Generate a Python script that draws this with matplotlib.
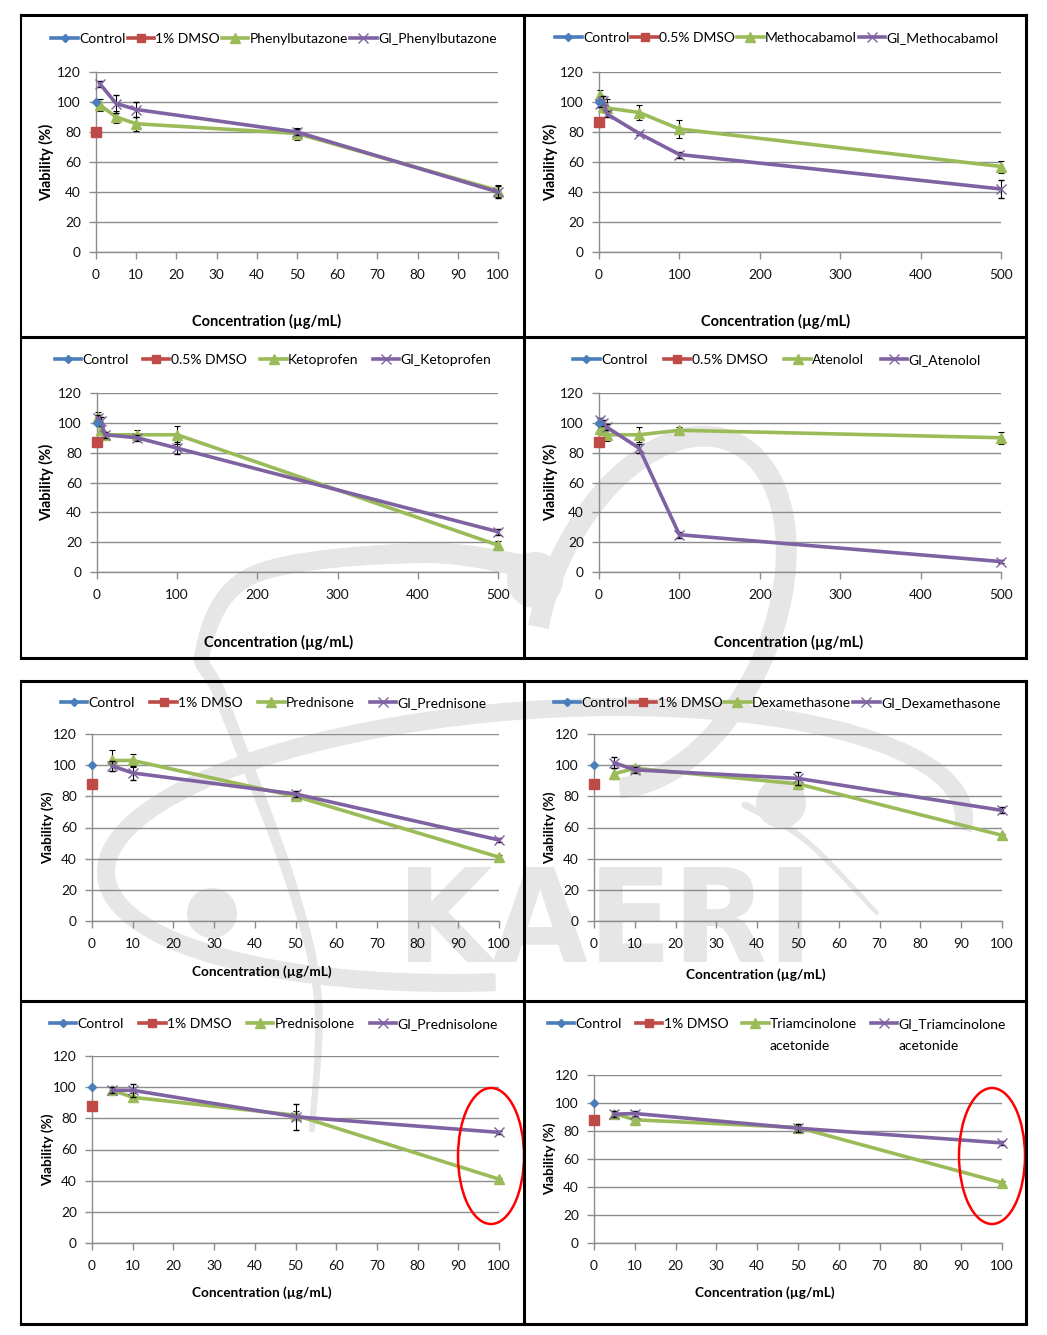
import numpy as np
import matplotlib.pyplot as plt
from matplotlib.lines import Line2D
from matplotlib.patches import Ellipse, Circle, Arc, PathPatch
from matplotlib.collections import LineCollection
from matplotlib.textpath import TextPath
from matplotlib.font_manager import FontProperties
from matplotlib.transforms import Affine2D

plt.rcParams['font.family'] = ['Lato', 'DejaVu Sans']

W, H = 1047, 1335

# ---- data ----
ctrl_y = 100
dmso_y = [80, 87, 87, 87, 88, 88, 88, 88]
dmso_names = ['1% DMSO', '0.5% DMSO', '0.5% DMSO', '0.5% DMSO',
              '1% DMSO', '1% DMSO', '1% DMSO', '1% DMSO']
drug_names = ['Phenylbutazone', 'Methocabamol', 'Ketoprofen', 'Atenolol',
              'Prednisone', 'Dexamethasone', 'Prednisolone', 'Triamcinolone']

conc_a = [1, 5, 10, 50, 100]
conc_b = [1, 5, 10, 50, 100, 500]
conc_c = [5, 10, 50, 100]

phen_y = [98, 90, 85.5, 79, 41]
phen_err = [4, 4, 4.5, 4, 4]
gi_phen_y = [112, 99, 95, 80, 40]
gi_phen_err = [2, 6, 5, 2, 4]

meth_y = [105, 97, 96, 93, 82, 57]
meth_err = [3, 3, 6, 5, 6, 4]
gi_meth_y = [99, 101, 92, 79, 65, 42]
gi_meth_err = [2, 3, 2, 1, 2, 6]

keto_y = [104, 95, 92, 92, 92, 18]
keto_err = [3, 3, 2, 3, 6, 3]
gi_keto_y = [103, 101, 92, 90, 83, 27]
gi_keto_err = [2, 3, 2, 2, 4, 2]

aten_y = [96, 95, 92, 92, 95, 90]
aten_err = [2, 3, 4, 5, 2, 4]
gi_aten_y = [102, 100, 97, 83, 25, 7]
gi_aten_err = [1, 2, 2, 3, 2, 1]

predn_y = [103, 103, 80, 41]
predn_err = [6.5, 4, 2, 1.5]
gi_predn_y = [99.5, 95, 81.5, 52]
gi_predn_err = [3, 4.5, 2, 1]

dexa_y = [94.5, 98, 88, 55]
dexa_err = [3.5, 1.5, 3, 1]
gi_dexa_y = [101.5, 97, 91.5, 71]
gi_dexa_err = [3.5, 2, 4, 2]

predl_y = [98, 93.5, 82, 41]
predl_err = [2, 2.5, 3, 1]
gi_predl_y = [98, 98, 81, 71]
gi_predl_err = [2, 4, 8.5, 1]

tri_y = [92.5, 88, 82.5, 43]
tri_err = [2, 2, 2, 1]
gi_tri_y = [92, 92.5, 82, 71.5]
gi_tri_err = [2, 2, 3, 1.5]

BLUE = '#4a7ebb'
RED = '#be4b48'
GREEN = '#9bbb59'
PURPLE = '#7f62a1'
GRID = '#8c8c8c'
WM = '#e6e6e6'

fig = plt.figure(figsize=(W / 100, H / 100), dpi=100)
# pixel coords, y measured from the top
T = Affine2D().scale(1, -1).translate(0, H)


def rect(x0, y0, x1, y1):
    return [x0 / W, 1 - y1 / H, (x1 - x0) / W, (y1 - y0) / H]


def smooth(pts, n=30):
    # catmull-rom through the given pixel points
    p = np.array(pts, float)
    p = np.vstack([p[0], p, p[-1]])
    out = []
    t = np.linspace(0, 1, n)[:, None]
    for i in range(1, len(p) - 2):
        p0, p1, p2, p3 = p[i - 1], p[i], p[i + 1], p[i + 2]
        out.append(0.5 * (2 * p1 + (-p0 + p2) * t + (2 * p0 - 5 * p1 + 4 * p2 - p3) * t ** 2
                          + (-p0 + 3 * p1 - 3 * p2 + p3) * t ** 3))
    return np.vstack(out)


# ---- watermark (KAERI logo), behind everything ----
def wm(artist):
    artist.set_transform(T)
    artist.set_zorder(-5)
    fig.add_artist(artist)


def band(pts, w0, w1):
    c = smooth(pts)
    segs = np.stack([c[:-1], c[1:]], axis=1)
    lc = LineCollection(segs, colors=WM, linewidths=np.linspace(w0, w1, len(segs)), capstyle='round')
    wm(lc)


for cx, cy, r in [(535, 580, 28), (212, 913, 25), (781, 803, 25)]:
    wm(Circle((cx, cy), r, color=WM, lw=0))
wm(Arc((535, 845), 860, 270, angle=-4, theta1=110, theta2=362, color=WM, lw=13))
wm(Arc((660, 612), 225, 370, angle=23, theta1=150, theta2=440, color=WM, lw=15))
band([(525, 566), (420, 553), (253, 575), (203, 650), (222, 700), (290, 880),
      (318, 1000), (312, 1130)], 16, 4)
band([(745, 805), (805, 840), (877, 913)], 5, 3)

tp = TextPath((0, 0), 'KAERI', size=1, prop=FontProperties(family='DejaVu Sans', weight='bold'))
ext = tp.get_extents()
sx = (802 - 408) / ext.width
sy = (962 - 867) / ext.height
kp = PathPatch(tp, color=WM, lw=0, zorder=-5)
kp.set_transform(Affine2D().translate(-ext.x0, -ext.y0).scale(sx, sy).translate(408, H - 962))
fig.add_artist(kp)

# ---- panels ----
panels = [
    # axes box, xmax, xtick step, conc, drug, err, gi, err, ylabel x, xlabel xy, legend xy, colspacing, label size
    ((96, 72, 498, 252), 100, 10, conc_a, phen_y, phen_err, gi_phen_y, gi_phen_err, 47, (267, 322), (274, 39), 0.15, 10.5),
    ((599, 72, 1001, 252), 500, 100, conc_b, meth_y, meth_err, gi_meth_y, gi_meth_err, 551, (776, 322), (777, 38), 0.15, 10.5),
    ((97, 393, 498, 572), 500, 100, conc_b, keto_y, keto_err, gi_keto_y, gi_keto_err, 47, (279, 643), (273, 360), 1.0, 10.5),
    ((599, 393, 1001, 572), 500, 100, conc_b, aten_y, aten_err, gi_aten_y, gi_aten_err, 551, (789, 643), (777, 360), 1.2, 10.5),
    ((92, 734, 499, 921), 100, 10, conc_c, predn_y, predn_err, gi_predn_y, gi_predn_err, 47, (262, 973), (274, 703), 1.1, 9.8),
    ((594, 734, 1002, 921), 100, 10, conc_c, dexa_y, dexa_err, gi_dexa_y, gi_dexa_err, 549, (756, 976), (777, 703), 0.15, 9.8),
    ((92, 1056, 499, 1243), 100, 10, conc_c, predl_y, predl_err, gi_predl_y, gi_predl_err, 47, (262, 1294), (274, 1024), 1.1, 9.8),
    ((594, 1075, 1002, 1243), 100, 10, conc_c, tri_y, tri_err, gi_tri_y, gi_tri_err, 549, (765, 1294), (777, 1024), 1.0, 9.8),
]

eb_kw = dict(ecolor='black', elinewidth=0.8, capsize=2.2, capthick=0.8)
legends = []

for i, (box, xmax, step, x, dy, de, gy, ge, ylx, xl, lg, cs, fs) in enumerate(panels):
    x0, y0, x1, y1 = box
    ax = fig.add_axes(rect(x0, y0, x1, y1))
    ax.set_facecolor('none')
    ax.set_xlim(0, xmax)
    ax.set_ylim(0, 120)
    ax.set_xticks(np.arange(0, xmax + 1, step))
    ax.set_yticks(np.arange(0, 121, 20))
    ax.yaxis.grid(True, color=GRID, lw=1)
    ax.set_axisbelow(True)
    for s in ['top', 'right']:
        ax.spines[s].set_visible(False)
    for s in ['left', 'bottom']:
        ax.spines[s].set_color(GRID)
        ax.spines[s].set_linewidth(1)
    ax.tick_params(colors=GRID, length=5, width=1, labelsize=9.8, labelcolor='#111111')
    ax.tick_params(axis='x', pad=7)
    ax.tick_params(axis='y', pad=6)

    cont = []
    cont.append(ax.errorbar(x, dy, yerr=de, color=GREEN, lw=2.6, marker='^', ms=7, zorder=3, **eb_kw))
    cont.append(ax.errorbar(x, gy, yerr=ge, color=PURPLE, lw=2.6, marker='x', ms=7, mew=1.0, zorder=4, **eb_kw))
    cont.append(ax.errorbar([0], [ctrl_y], yerr=[0.8], color=BLUE, marker='D', ms=4.5, zorder=5, **eb_kw))
    cont.append(ax.errorbar([0], [dmso_y[i]], yerr=[1.2], color=RED, marker='s', ms=6.5, zorder=5, **eb_kw))
    for c in cont:
        for a in [c[0], *c[1], *c[2]]:
            a.set_clip_on(False)

    ax.set_ylabel('Viability (%)', fontsize=fs, fontweight='bold')
    ax.yaxis.set_label_coords((ylx + 7 - x0) / (x1 - x0), 0.5)
    ax.set_xlabel('Concentration (µg/mL)', fontsize=fs, fontweight='bold')
    ax.xaxis.set_label_coords((xl[0] - x0) / (x1 - x0), (y1 - xl[1] + 8) / (y1 - y0))

    handles = [
        Line2D([], [], color=BLUE, lw=2.6, marker='D', ms=4.5),
        Line2D([], [], color=RED, lw=2.6, marker='s', ms=6),
        Line2D([], [], color=GREEN, lw=2.6, marker='^', ms=6.5),
        Line2D([], [], color=PURPLE, lw=2.6, marker='x', ms=7, mew=1.0),
    ]
    labels = ['Control', dmso_names[i], drug_names[i], 'GI_' + drug_names[i]]
    leg = ax.legend(handles, labels, loc='center', bbox_to_anchor=lg, bbox_transform=T,
                    ncol=4, frameon=False, fontsize=10, handlelength=1.9,
                    handletextpad=0.1, columnspacing=cs, borderpad=0)
    legends.append(leg)

# red ellipses highlighting the 100 µg/mL points
for cx in [491, 992]:
    ring = Ellipse((cx, 1156), 66, 136, fill=False, ec='#ff0000', lw=1.8, zorder=10)
    ring.set_transform(T)
    fig.add_artist(ring)

# second line of the triamcinolone legend labels
fig.canvas.draw()
for t in legends[-1].get_texts()[2:]:
    bb = t.get_window_extent()
    fig.text(bb.x0 / W, (bb.y0 - 20) / H, 'acetonide', fontsize=10)

# ---- panel frames ----
def hline(xa, xb, y, lw=2.2):
    fig.add_artist(Line2D([xa, xb], [y, y], color='black', lw=lw, transform=T, zorder=20))


def vline(x, ya, yb, lw=2.2):
    fig.add_artist(Line2D([x, x], [ya, yb], color='black', lw=lw, transform=T, zorder=20))


for top, mid, bot in [(15, 337, 658), (681, 1001, 1324)]:
    hline(21, 1026, top)
    hline(21, 1026, mid)
    hline(21, 1026, bot)
    vline(21, top, bot, lw=1.5)
    vline(524, top, bot)
    vline(1026, top, bot)

fig.savefig('out.png', dpi=100, facecolor='white')
